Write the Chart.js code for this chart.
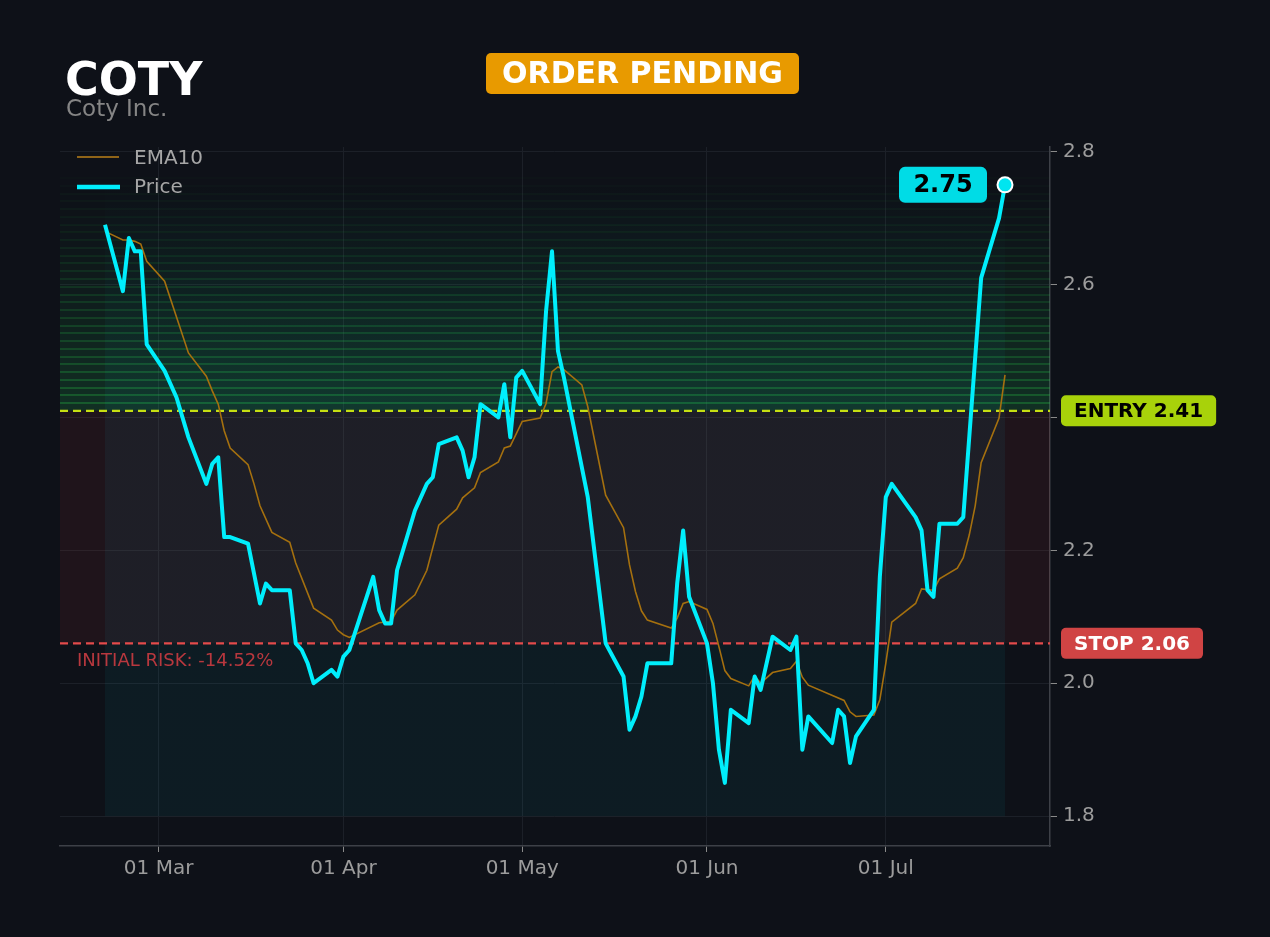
<!DOCTYPE html>
<html>
<head>
<meta charset="utf-8">
<title>COTY - Coty Inc.</title>
<script src="https://cdn.jsdelivr.net/npm/chart.js@4.4.1/dist/chart.umd.min.js"></script>
<style>
  html, body { margin: 0; padding: 0; background: #0e1118; }
  #wrap { position: relative; width: 1270px; height: 937px; }
</style>
</head>
<body>
<div id="wrap"><canvas id="chart" width="1270" height="937"></canvas></div>
<script>
// day offsets are counted from 01 Mar
const tickDays = [0, 31, 61, 92, 122];
const tickLabels = ['01 Mar', '01 Apr', '01 May', '01 Jun', '01 Jul'];
const priceTicks = [1.8, 2.0, 2.2, 2.4, 2.6, 2.8];

const priceDays = [-9, -6, -5, -4, -3, -2, 1, 3, 5, 8, 9, 10, 11, 12, 15, 17, 18, 19, 22, 23, 24, 25, 26,
  29, 30, 31, 32, 36, 37, 38, 39, 40, 43, 45, 46, 47, 50, 51, 52, 53, 54, 57, 58, 59, 60, 61, 64, 65, 66,
  67, 68, 72, 75, 78, 79, 80, 81, 82, 86, 87, 88, 89, 92, 93, 94, 95, 96, 99, 100, 101, 103, 106, 107,
  108, 109, 113, 114, 115, 116, 117, 120, 121, 122, 123, 127, 128, 129, 130, 131, 134, 135, 138, 141, 142];
const priceValues = [2.69, 2.59, 2.67, 2.65, 2.65, 2.51, 2.47, 2.43, 2.37, 2.30, 2.33, 2.34, 2.22, 2.22,
  2.21, 2.12, 2.15, 2.14, 2.14, 2.06, 2.05, 2.03, 2.00, 2.02, 2.01, 2.04, 2.05, 2.16, 2.11, 2.09, 2.09,
  2.17, 2.26, 2.30, 2.31, 2.36, 2.37, 2.35, 2.31, 2.34, 2.42, 2.40, 2.45, 2.37, 2.46, 2.47, 2.42, 2.56,
  2.65, 2.50, 2.46, 2.28, 2.06, 2.01, 1.93, 1.95, 1.98, 2.03, 2.03, 2.15, 2.23, 2.13, 2.06, 2.00, 1.90,
  1.85, 1.96, 1.94, 2.01, 1.99, 2.07, 2.05, 2.07, 1.90, 1.95, 1.91, 1.96, 1.95, 1.88, 1.92, 1.96, 2.16,
  2.28, 2.30, 2.25, 2.23, 2.14, 2.13, 2.24, 2.24, 2.25, 2.61, 2.70, 2.75];

const emaDays = [-9, -6, -5, -4, -3, -2, 1, 5, 8, 9, 10, 11, 12, 15, 16, 17, 19, 22, 23, 26, 29, 30, 31,
  32, 37, 39, 40, 43, 45, 47, 50, 51, 53, 54, 57, 58, 59, 61, 64, 65, 66, 67, 68, 71, 72, 75, 78, 79, 80,
  81, 82, 86, 87, 88, 89, 92, 93, 94, 95, 96, 99, 100, 101, 103, 106, 107, 108, 109, 115, 116, 117, 120,
  121, 122, 123, 127, 128, 130, 131, 134, 135, 136, 137, 138, 141, 142];
const emaValues = [2.680, 2.667, 2.667, 2.665, 2.661, 2.635, 2.605, 2.497, 2.462, 2.440, 2.420, 2.380,
  2.354, 2.329, 2.300, 2.267, 2.227, 2.212, 2.181, 2.113, 2.095, 2.080, 2.073, 2.069, 2.091, 2.093, 2.110,
  2.133, 2.170, 2.238, 2.262, 2.279, 2.294, 2.317, 2.333, 2.354, 2.357, 2.394, 2.399, 2.421, 2.469, 2.476,
  2.472, 2.449, 2.416, 2.283, 2.234, 2.178, 2.138, 2.109, 2.095, 2.083, 2.098, 2.120, 2.123, 2.111, 2.090,
  2.055, 2.019, 2.007, 1.996, 2.011, 2.000, 2.016, 2.022, 2.033, 2.009, 1.997, 1.974, 1.957, 1.950, 1.952,
  1.975, 2.030, 2.092, 2.120, 2.142, 2.140, 2.157, 2.173, 2.189, 2.223, 2.267, 2.332, 2.399, 2.464];

const entryPrice = 2.41;
const stopPrice = 2.06;

const FONT = '"DejaVu Sans", sans-serif';
const PRICE_COLOR = '#00eefc';
const EMA_COLOR = '#a5700f';

function roundBox(ctx, x, y, w, h, r, fill) {
  ctx.beginPath();
  ctx.roundRect(x, y, w, h, r);
  ctx.fillStyle = fill;
  ctx.fill();
}

const tradePlugin = {
  id: 'trade',
  beforeDatasetsDraw(chart) {
    const { ctx, chartArea: a, scales: { x, y } } = chart;
    const yEntry = y.getPixelForValue(entryPrice);
    const yStop = y.getPixelForValue(stopPrice);
    const target = entryPrice + (entryPrice - stopPrice);

    ctx.save();
    ctx.beginPath();
    ctx.rect(a.left, a.top, a.right - a.left, a.bottom - a.top);
    ctx.clip();

    // risk zone
    ctx.fillStyle = 'rgba(239, 68, 68, 0.08)';
    ctx.fillRect(a.left, yEntry, a.right - a.left, yStop - yEntry);

    // reward zone, fading bands up to 1R
    const bands = 30;
    const step = (target - entryPrice) / bands;
    for (let i = 0; i < bands; i++) {
      const t = i / bands;
      const y0 = y.getPixelForValue(entryPrice + i * step);
      const y1 = y.getPixelForValue(entryPrice + (i + 1) * step);
      ctx.fillStyle = `rgba(34, 197, 94, ${0.17 * Math.pow(1 - t, 1.4)})`;
      ctx.fillRect(a.left, y1, a.right - a.left, y0 - y1);
      ctx.fillStyle = `rgba(40, 190, 70, ${0.30 * Math.pow(1 - t, 1.2) + 0.015})`;
      ctx.fillRect(a.left, Math.round(y1) - 1, a.right - a.left, 2);
    }

    // data range highlight, fading out above the entry
    const x0 = x.getPixelForValue(priceDays[0]);
    const x1 = x.getPixelForValue(priceDays[priceDays.length - 1]);
    const yb = y.getPixelForValue(priceTicks[0]);
    const yt = y.getPixelForValue(target);
    const g = ctx.createLinearGradient(0, yb, 0, yt);
    g.addColorStop(0, 'rgba(0, 229, 255, 0.05)');
    g.addColorStop((yb - yEntry) / (yb - yt), 'rgba(0, 229, 255, 0.05)');
    g.addColorStop(1, 'rgba(0, 229, 255, 0)');
    ctx.fillStyle = g;
    ctx.fillRect(x0, yt, x1 - x0, yb - yt);

    // entry / stop lines
    ctx.lineWidth = 2.2;
    ctx.setLineDash([8, 5]);
    ctx.strokeStyle = '#c6df12';
    ctx.beginPath();
    ctx.moveTo(a.left, yEntry);
    ctx.lineTo(a.right, yEntry);
    ctx.stroke();
    ctx.lineWidth = 2.4;
    ctx.strokeStyle = '#e34b4b';
    ctx.beginPath();
    ctx.moveTo(a.left, yStop);
    ctx.lineTo(a.right, yStop);
    ctx.stroke();
    ctx.setLineDash([]);

    const risk = (stopPrice - entryPrice) / entryPrice * 100;
    ctx.font = '18px ' + FONT;
    ctx.fillStyle = '#b8383e';
    ctx.textAlign = 'left';
    ctx.textBaseline = 'middle';
    ctx.fillText('INITIAL RISK: ' + risk.toFixed(2) + '%', a.left + 17, yStop + 18);
    ctx.restore();
  },
  afterDraw(chart) {
    const { ctx, chartArea: a, scales: { x, y } } = chart;
    ctx.save();

    // header
    ctx.textAlign = 'left';
    ctx.textBaseline = 'alphabetic';
    ctx.fillStyle = '#ffffff';
    ctx.font = 'bold 46px ' + FONT;
    ctx.fillText('COTY', 65, 95);
    ctx.fillStyle = '#858585';
    ctx.font = '23px ' + FONT;
    ctx.fillText('Coty Inc.', 66, 116);

    roundBox(ctx, 486, 53, 313, 41, 5, '#e89a00');
    ctx.textAlign = 'center';
    ctx.textBaseline = 'middle';
    ctx.fillStyle = '#ffffff';
    ctx.font = 'bold 30px ' + FONT;
    ctx.fillText('ORDER PENDING', 642.5, 75);

    // legend
    ctx.lineCap = 'butt';
    ctx.strokeStyle = '#8f6418';
    ctx.lineWidth = 2;
    ctx.beginPath(); ctx.moveTo(77, 157); ctx.lineTo(119, 157); ctx.stroke();
    ctx.strokeStyle = PRICE_COLOR;
    ctx.lineWidth = 4.5;
    ctx.beginPath(); ctx.moveTo(77, 187); ctx.lineTo(120, 187); ctx.stroke();
    ctx.font = '20px ' + FONT;
    ctx.fillStyle = '#a6a6a6';
    ctx.textAlign = 'left';
    ctx.fillText('EMA10', 134, 159);
    ctx.fillText('Price', 134, 188);

    // last price tag
    const last = priceValues.length - 1;
    const px = x.getPixelForValue(priceDays[last]);
    const py = y.getPixelForValue(priceValues[last]);
    roundBox(ctx, px - 106, py - 18, 88, 36, 6, '#00dce6');
    ctx.fillStyle = '#000000';
    ctx.font = 'bold 24px ' + FONT;
    ctx.textAlign = 'center';
    ctx.fillText(priceValues[last].toFixed(2), px - 62, py + 1);

    // entry / stop tags
    ctx.font = 'bold 20px ' + FONT;
    const entryText = 'ENTRY ' + entryPrice.toFixed(2);
    const stopText = 'STOP ' + stopPrice.toFixed(2);
    const yEntry = y.getPixelForValue(entryPrice);
    const yStop = y.getPixelForValue(stopPrice);
    const ew = ctx.measureText(entryText).width + 26;
    const sw = ctx.measureText(stopText).width + 26;
    roundBox(ctx, a.right + 11, yEntry - 15.5, ew, 31, 5, '#a8d20a');
    ctx.fillStyle = '#000000';
    ctx.fillText(entryText, a.right + 11 + ew / 2, yEntry + 1);
    roundBox(ctx, a.right + 11, yStop - 15.5, sw, 31, 5, '#d04444');
    ctx.fillStyle = '#ffffff';
    ctx.fillText(stopText, a.right + 11 + sw / 2, yStop + 1);

    ctx.restore();
  }
};

const lastIndex = priceValues.length - 1;

new Chart(document.getElementById('chart'), {
  type: 'line',
  data: {
    datasets: [
      {
        label: 'Price',
        data: priceDays.map((d, i) => ({ x: d, y: priceValues[i] })),
        borderColor: PRICE_COLOR,
        borderWidth: 4,
        borderJoinStyle: 'round',
        tension: 0,
        pointRadius: ctx => ctx.dataIndex === lastIndex ? 7.5 : 0,
        pointBackgroundColor: '#00e5f0',
        pointBorderColor: '#ffffff',
        pointBorderWidth: 2,
        fill: false
      },
      {
        label: 'EMA10',
        data: emaDays.map((d, i) => ({ x: d, y: emaValues[i] })),
        borderColor: EMA_COLOR,
        borderWidth: 1.6,
        tension: 0,
        pointRadius: 0,
        fill: false
      }
    ]
  },
  options: {
    responsive: false,
    animation: false,
    devicePixelRatio: 1,
    layout: { padding: { left: 60, top: 147, right: 0, bottom: 0 } },
    plugins: {
      legend: { display: false },
      tooltip: { enabled: false }
    },
    scales: {
      x: {
        type: 'linear',
        min: -16.55,
        max: 149.55,
        afterFit: s => { s.height = 91; },
        afterBuildTicks: s => { s.ticks = tickDays.map(v => ({ value: v })); },
        ticks: {
          color: '#9c9c9c',
          font: { family: FONT, size: 20 },
          padding: 5,
          maxRotation: 0,
          callback: v => tickLabels[tickDays.indexOf(v)]
        },
        grid: { color: '#1c2028', tickColor: '#8a8a8a', tickLength: 6, lineWidth: 1 },
        border: { color: '#3d4047', width: 1.5 }
      },
      y: {
        type: 'linear',
        position: 'right',
        min: 1.755,
        max: 2.807,
        afterFit: s => { s.width = 220; },
        afterBuildTicks: s => { s.ticks = priceTicks.map(v => ({ value: v })); },
        ticks: {
          color: '#9c9c9c',
          font: { family: FONT, size: 20 },
          padding: 6,
          callback: v => v.toFixed(1)
        },
        grid: { color: '#1c2028', tickColor: '#8a8a8a', tickLength: 7, lineWidth: 1 },
        border: { color: '#3d4047', width: 1.5 }
      }
    }
  },
  plugins: [tradePlugin]
});
</script>
</body>
</html>
